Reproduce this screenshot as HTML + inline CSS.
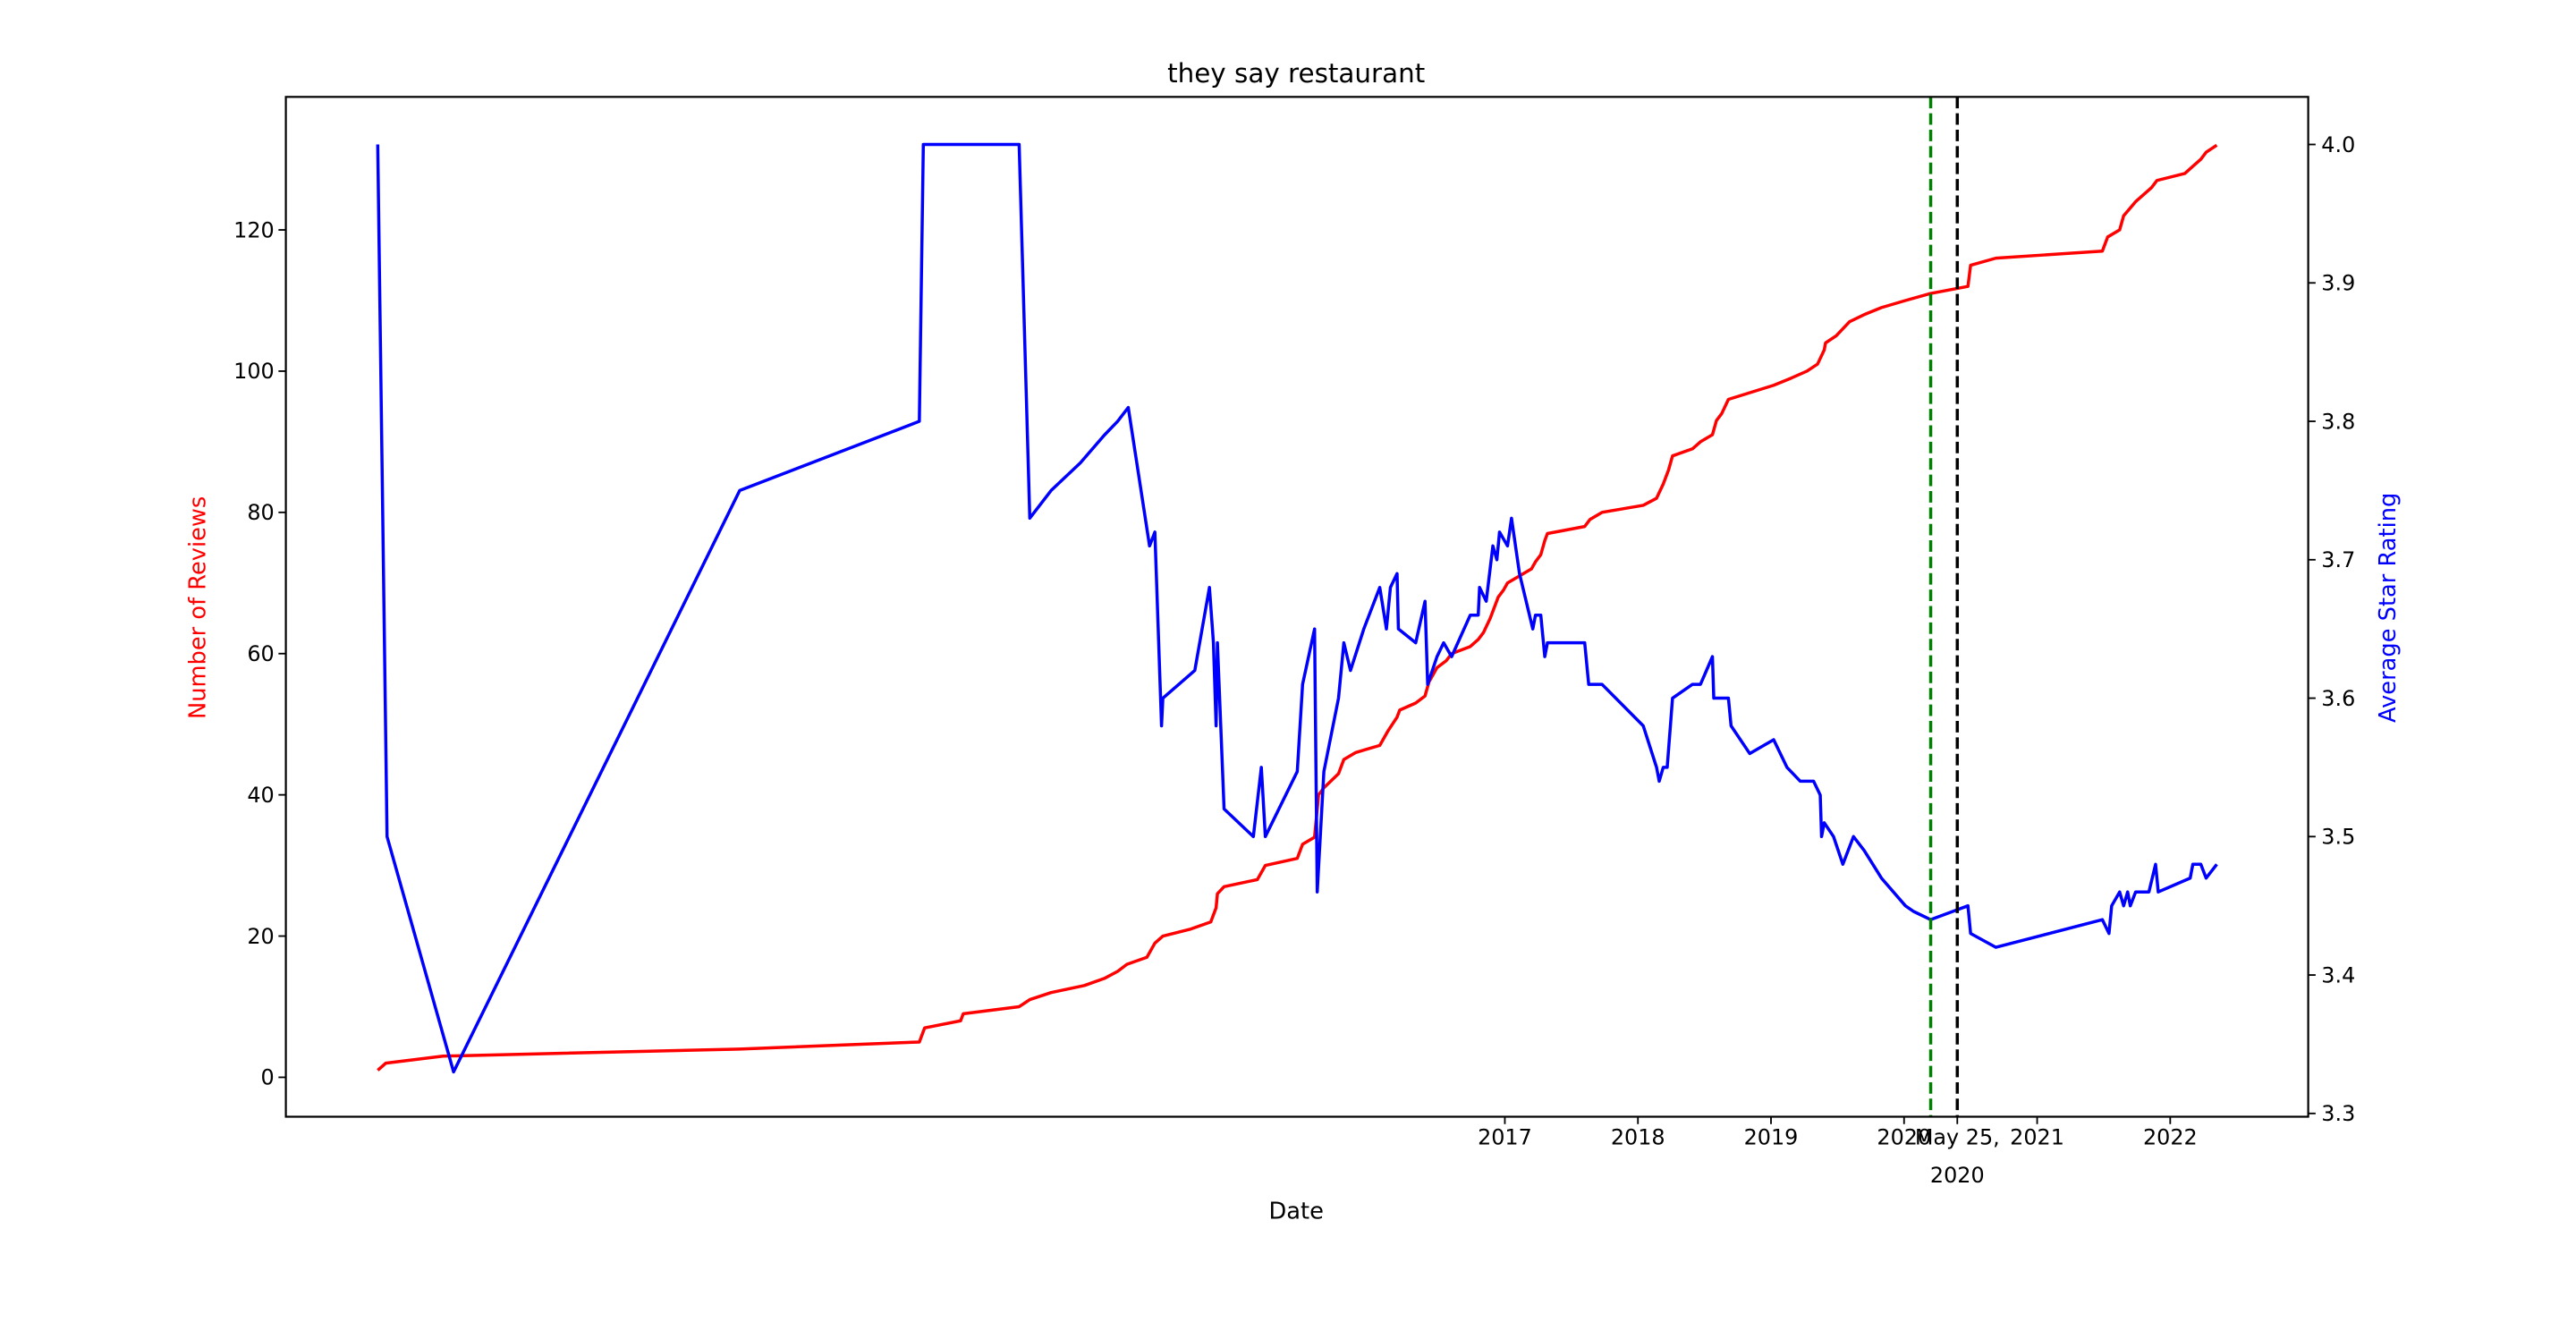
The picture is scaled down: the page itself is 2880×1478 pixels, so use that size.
<!DOCTYPE html>
<html><head><meta charset="utf-8"><style>
html,body{margin:0;padding:0;background:#fff;}
svg{display:block;font-family:"DejaVu Sans","Liberation Sans",sans-serif;}
</style></head><body>
<svg id="chart" width="2880" height="1478" viewBox="0 0 1568 805" preserveAspectRatio="none" xmlns="http://www.w3.org/2000/svg">
<rect width="1568" height="805" fill="#fff"/>
<text x="789" y="50" font-size="16" text-anchor="middle">they say restaurant</text>
<text x="789" y="742" font-size="14" text-anchor="middle">Date</text>
<text transform="translate(125,370) rotate(-90)" font-size="14" text-anchor="middle" fill="red">Number of Reviews</text>
<text transform="translate(1458,370) rotate(-90)" font-size="14" text-anchor="middle" fill="blue">Average Star Rating</text>
<g id="marks"></g>
<rect x="174" y="59" width="1231" height="621" fill="none" stroke="#000" stroke-width="1.2"/>
</svg>
<script>
const reviewDates=[2008.53,2008.59,2009.02,2011.25,2012.60,2012.64,2012.91,2012.93,2013.35,2013.43,2013.59,2013.84,2013.99,2014.09,2014.16,2014.31,2014.37,2014.43,2014.64,2014.79,2014.83,2014.84,2014.89,2015.14,2015.20,2015.44,2015.48,2015.57,2015.60,2015.64,2015.75,2015.79,2015.88,2016.06,2016.12,2016.19,2016.21,2016.33,2016.40,2016.43,2016.49,2016.56,2016.60,2016.74,2016.80,2016.84,2016.89,2016.95,2016.99,2017.02,2017.11,2017.20,2017.23,2017.27,2017.30,2017.32,2017.60,2017.64,2017.73,2018.04,2018.14,2018.19,2018.23,2018.26,2018.41,2018.47,2018.56,2018.59,2018.63,2018.68,2019.02,2019.15,2019.27,2019.35,2019.40,2019.41,2019.49,2019.59,2019.70,2019.83,2020.01,2020.20,2020.48,2020.50,2020.69,2021.49,2021.53,2021.62,2021.65,2021.74,2021.80,2021.86,2021.90,2022.11,2022.17,2022.23,2022.27,2022.35];
const reviewCounts=[1,2,3,4,5,7,8,9,10,11,12,13,14,15,16,17,19,20,21,22,24,26,27,28,30,31,33,34,40,41,43,45,46,47,49,51,52,53,54,56,58,59,60,61,62,63,65,68,69,70,71,72,73,74,76,77,78,79,80,81,82,84,86,88,89,90,91,93,94,96,98,99,100,101,103,104,105,107,108,109,110,111,112,115,116,117,119,120,122,124,125,126,127,128,129,130,131,132];
const ratingDates=[2008.53,2008.60,2009.10,2011.25,2012.60,2012.63,2013.35,2013.43,2013.59,2013.81,2013.99,2014.09,2014.17,2014.33,2014.37,2014.42,2014.43,2014.67,2014.78,2014.81,2014.83,2014.84,2014.89,2015.11,2015.17,2015.20,2015.44,2015.48,2015.57,2015.59,2015.64,2015.75,2015.79,2015.84,2015.94,2016.06,2016.11,2016.14,2016.19,2016.20,2016.33,2016.40,2016.42,2016.49,2016.54,2016.60,2016.74,2016.80,2016.81,2016.86,2016.91,2016.94,2016.96,2017.02,2017.05,2017.11,2017.21,2017.23,2017.27,2017.30,2017.32,2017.60,2017.63,2017.73,2018.04,2018.14,2018.16,2018.19,2018.22,2018.26,2018.41,2018.47,2018.56,2018.57,2018.68,2018.70,2018.84,2019.02,2019.12,2019.22,2019.32,2019.37,2019.38,2019.40,2019.47,2019.54,2019.62,2019.70,2019.83,2020.01,2020.07,2020.20,2020.48,2020.50,2020.69,2021.49,2021.54,2021.56,2021.62,2021.65,2021.68,2021.70,2021.74,2021.84,2021.89,2021.91,2022.15,2022.17,2022.23,2022.27,2022.35];
const ratingValues=[4.00,3.50,3.33,3.75,3.80,4.00,4.00,3.73,3.75,3.77,3.79,3.80,3.81,3.71,3.72,3.58,3.60,3.62,3.68,3.64,3.58,3.64,3.52,3.50,3.55,3.50,3.547,3.61,3.65,3.46,3.547,3.60,3.64,3.62,3.65,3.68,3.65,3.68,3.69,3.65,3.64,3.67,3.61,3.63,3.64,3.63,3.66,3.66,3.68,3.67,3.71,3.70,3.72,3.71,3.73,3.69,3.65,3.66,3.66,3.63,3.64,3.64,3.61,3.61,3.58,3.55,3.54,3.55,3.55,3.60,3.61,3.61,3.63,3.60,3.60,3.58,3.56,3.57,3.55,3.54,3.54,3.53,3.50,3.51,3.50,3.48,3.50,3.49,3.47,3.45,3.446,3.44,3.45,3.43,3.42,3.44,3.43,3.45,3.46,3.45,3.46,3.45,3.46,3.46,3.48,3.46,3.47,3.48,3.48,3.47,3.48];
const xTickYears=[2017,2018,2019,2020,2021,2022];
const xTickLabels=["2017","2018","2019","2020","2021","2022"];
const leftTicks=[0,20,40,60,80,100,120];
const rightTicks=[3.3,3.4,3.5,3.6,3.7,3.8,3.9,4.0];
const eventDates=[2020.20,2020.40];
const eventColors=["green","black"];

const NS="http://www.w3.org/2000/svg";
const L=174,R=1405,T=59,B=680;
function xS(y){return 916+(y-2017)*81;}
function yL(v){return 656-v*4.3;}
function yR(v){return 678-(v-3.3)*842.9;}
const g=document.getElementById('marks');
function mk(tag,attrs){const e=document.createElementNS(NS,tag);for(const k in attrs)e.setAttribute(k,attrs[k]);g.appendChild(e);return e;}

leftTicks.forEach(v=>{
  const t=mk('line',{x1:L-4.5,x2:L,y1:yL(v),y2:yL(v),stroke:'#000','stroke-width':1});
  
  
  const s=mk('text',{x:L-7,y:yL(v)+4.5,'font-size':13,'text-anchor':'end'});
  s.textContent=String(v);
  
  
});
rightTicks.forEach(v=>{
  const t=mk('line',{x1:R,x2:R+4.5,y1:yR(v),y2:yR(v),stroke:'#000','stroke-width':1});
  
  
  const s=mk('text',{x:R+8,y:yR(v)+4.5,'font-size':13,'text-anchor':'start'});
  s.textContent=v.toFixed(1);
  
  
});
xTickYears.forEach((yv,i)=>{
  const t=mk('line',{x1:xS(yv),x2:xS(yv),y1:B,y2:B+4.5,stroke:'#000','stroke-width':1});
  
  
  const s=mk('text',{x:xS(yv),y:B+17,'font-size':13,'text-anchor':'middle'});
  s.textContent=xTickLabels[i];
  
  
});
{
  const yv=eventDates[1];
  const t=mk('line',{x1:xS(yv),x2:xS(yv),y1:B,y2:B+4.5,stroke:'#000','stroke-width':1});
  
  
  const s1=mk('text',{x:xS(yv),y:B+17,'font-size':13,'text-anchor':'middle'});
  s1.textContent='May 25,';
  
  
  const s2=mk('text',{x:xS(yv),y:B+40,'font-size':13,'text-anchor':'middle'});
  s2.textContent='2020';
  
  
}
const rp=mk('polyline',{points:reviewDates.map((d,i)=>xS(d)+','+yL(reviewCounts[i])).join(' '),fill:'none',stroke:'red','stroke-width':1.9,'stroke-linejoin':'round'});


const bp=mk('polyline',{points:ratingDates.map((d,i)=>xS(d)+','+yR(ratingValues[i])).join(' '),fill:'none',stroke:'blue','stroke-width':1.9,'stroke-linejoin':'round'});


eventDates.forEach((d,i)=>{
  const v=mk('line',{x1:xS(d),x2:xS(d),y1:T,y2:B,stroke:eventColors[i],'stroke-width':1.9,'stroke-dasharray':'7,3'});
  
  
});
</script>
</body></html>
